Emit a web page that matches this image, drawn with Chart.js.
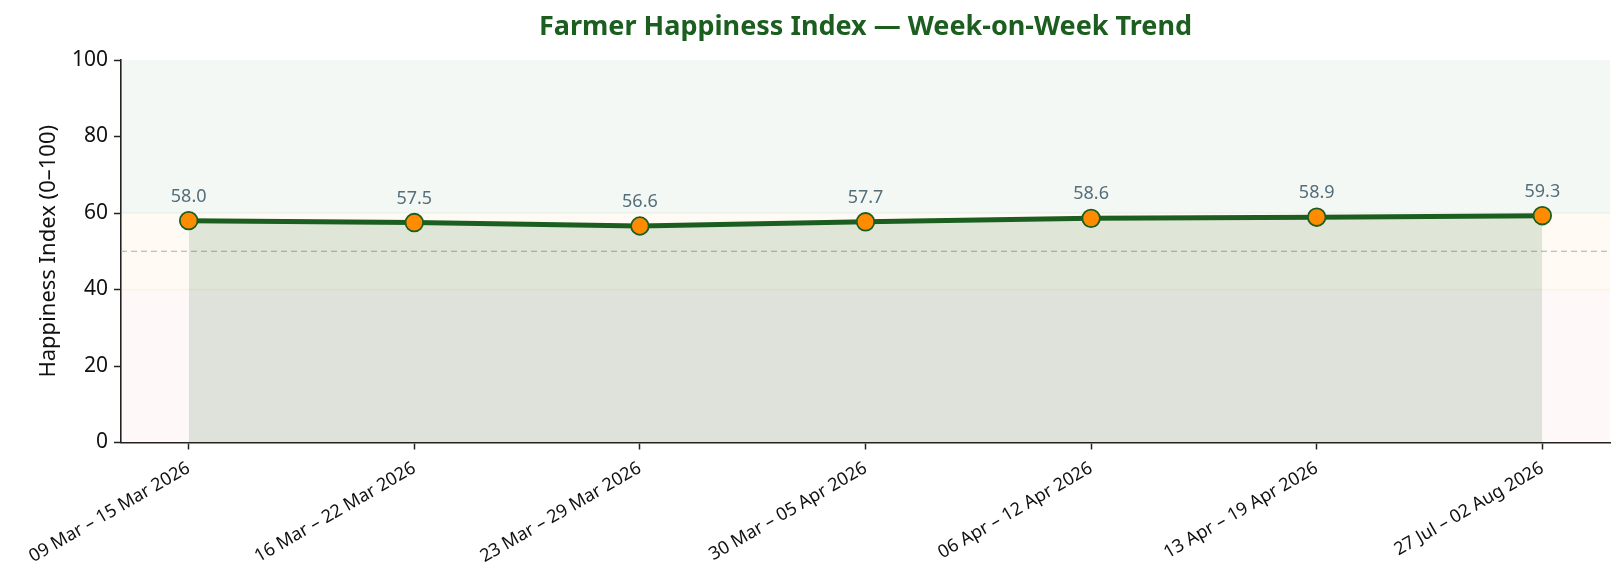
<!DOCTYPE html>
<html>
<head>
<meta charset="utf-8">
<script src="https://cdn.jsdelivr.net/npm/chart.js@4.4.1/dist/chart.umd.min.js"></script>
<style>
html,body{margin:0;padding:0;background:#fff;}
#wrap{width:1624px;height:583px;position:relative;}
</style>
</head>
<body>
<div id="wrap"><canvas id="c"></canvas></div>
<script>
const chartTitle = 'Farmer Happiness Index — Week-on-Week Trend';
const weeks = ["09 Mar – 15 Mar 2026","16 Mar – 22 Mar 2026","23 Mar – 29 Mar 2026","30 Mar – 05 Apr 2026","06 Apr – 12 Apr 2026","13 Apr – 19 Apr 2026","27 Jul – 02 Aug 2026"];
const happiness = [58.0, 57.5, 56.6, 57.7, 58.6, 58.9, 59.3];
const yTicks = [0, 20, 40, 60, 80, 100];
const bands = [
  {from: 60, to: 100, color: 'rgba(46,125,50,0.05)', edge: 'rgba(46,125,50,0.06)'},
  {from: 40, to: 60, color: 'rgba(255,152,0,0.045)', edge: 'rgba(255,152,0,0.08)'},
  {from: 0, to: 40, color: 'rgba(229,57,53,0.035)', edge: 'rgba(229,57,53,0.08)'}
];
const neutralLine = 50;

const FONT = "'Noto Sans', 'DejaVu Sans', sans-serif";

const bandPlugin = {
  id: 'bands',
  beforeDatasetsDraw(chart) {
    const {ctx, chartArea: a, scales: {y}} = chart;
    ctx.save();
    bands.forEach(b => {
      const top = y.getPixelForValue(b.to), bot = y.getPixelForValue(b.from);
      ctx.fillStyle = b.color;
      ctx.fillRect(a.left, top, a.right - a.left, bot - top);
    });
    bands.forEach(b => {
      if (b.from > 0) {
        const yy = y.getPixelForValue(b.from);
        ctx.strokeStyle = b.edge; ctx.lineWidth = 1.5;
        ctx.beginPath(); ctx.moveTo(a.left, yy); ctx.lineTo(a.right, yy); ctx.stroke();
      }
    });
    const yn = y.getPixelForValue(neutralLine);
    ctx.strokeStyle = '#a4afaf'; ctx.lineWidth = 1.2; ctx.setLineDash([6, 4]);
    ctx.beginPath(); ctx.moveTo(a.left, yn); ctx.lineTo(a.right, yn); ctx.stroke();
    ctx.restore();
  }
};

const labelPlugin = {
  id: 'vlabels',
  afterDatasetsDraw(chart) {
    const {ctx, chartArea: a} = chart;
    const meta = chart.getDatasetMeta(0);
    ctx.save();
    ctx.font = '18px ' + FONT;
    ctx.fillStyle = '#546e7a';
    ctx.textAlign = 'center';
    ctx.textBaseline = 'middle';
    meta.data.forEach((pt, i) => {
      ctx.fillText(happiness[i].toFixed(1), pt.x, pt.y - 24);
    });
    // title centred over the plot area
    ctx.font = 'bold 27px ' + FONT;
    ctx.fillStyle = '#1b5e20';
    ctx.fillText(chartTitle, (a.left + a.right) / 2, 27);
    ctx.restore();
  }
};

new Chart(document.getElementById('c'), {
  type: 'line',
  data: {
    datasets: [{
      data: happiness.map((v, i) => ({x: i, y: v})),
      borderColor: '#1b5e20',
      borderWidth: 5,
      backgroundColor: 'rgba(27,94,32,0.14)',
      fill: 'origin',
      tension: 0,
      pointRadius: 8.8,
      pointHoverRadius: 8.8,
      pointBackgroundColor: '#ff8c00',
      pointBorderColor: '#1b5e20',
      pointBorderWidth: 1.8
    }]
  },
  options: {
    responsive: true,
    maintainAspectRatio: false,
    animation: false,
    devicePixelRatio: 1,
    layout: {padding: {left: 0, right: 14, top: 60, bottom: 0}},
    plugins: {
      legend: {display: false},
      tooltip: {enabled: false},
      title: {display: false}
    },
    scales: {
      x: {
        type: 'linear',
        min: -0.3,
        max: 6.3,
        afterBuildTicks(scale) { scale.ticks = weeks.map((_, i) => ({value: i})); },
        afterFit(scale) { scale.height = 583 - 442.5; scale.paddingLeft = 0; scale.paddingRight = 0; },
        grid: {display: true, drawOnChartArea: false, drawTicks: true, tickLength: 7, tickWidth: 1.5, color: '#222'},
        border: {display: true, color: '#222', width: 1.6},
        ticks: {
          autoSkip: false,
          minRotation: 30,
          maxRotation: 30,
          padding: 8,
          color: '#111',
          font: {family: FONT, size: 18},
          callback: (v) => weeks[v]
        }
      },
      y: {
        min: 0,
        max: 100,
        afterBuildTicks(scale) { scale.ticks = yTicks.map(v => ({value: v})); },
        afterFit(scale) { scale.width = 121; scale.paddingTop = 0; scale.paddingBottom = 0; },
        grid: {display: true, drawOnChartArea: false, drawTicks: true, tickLength: 7, tickWidth: 1.5, color: '#222'},
        border: {display: true, color: '#222', width: 1.6},
        ticks: {color: '#111', padding: 6, font: {family: FONT, size: 21}},
        title: {
          display: true,
          text: 'Happiness Index (0–100)',
          color: '#111',
          font: {family: FONT, size: 22, lineHeight: 1.2},
          padding: {top: 35.5, bottom: 0}
        }
      }
    }
  },
  plugins: [bandPlugin, labelPlugin]
});
</script>
</body>
</html>
